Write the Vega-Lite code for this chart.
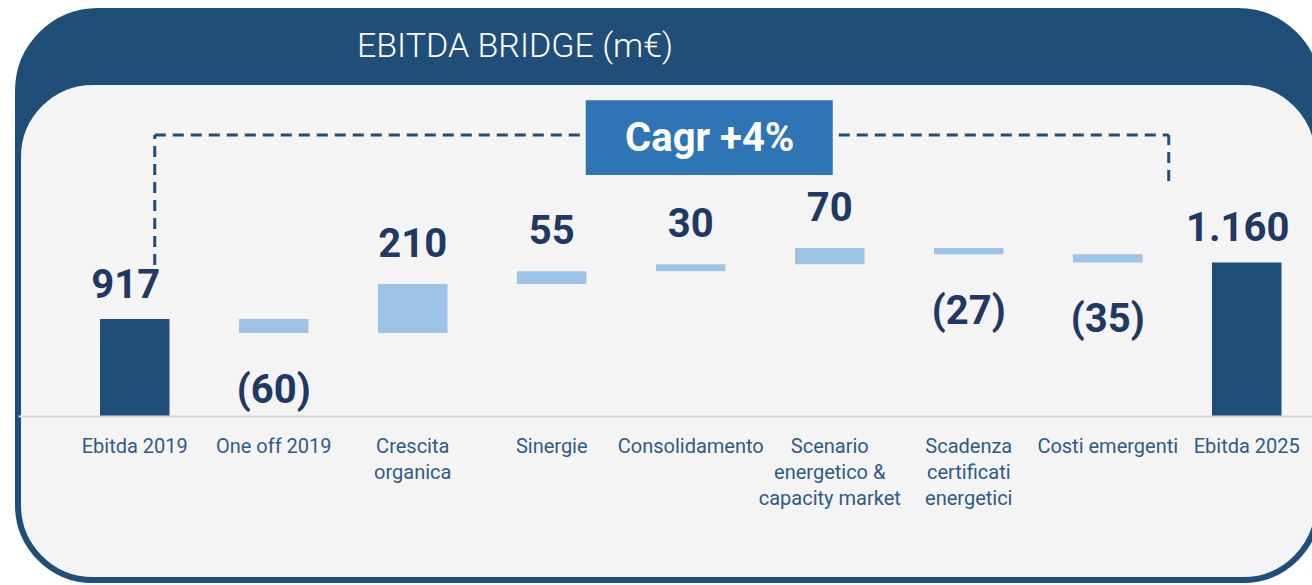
{
  "$schema": "https://vega.github.io/schema/vega-lite/v6.json",
  "background": "#FFFFFF",
  "padding": {"left": 15, "top": 11, "right": 0, "bottom": 0},
  "width": 1300,
  "height": 569,
  "view": {"fill": "#1F4E79", "stroke": "#1F4E79", "strokeWidth": 6, "cornerRadius": 80},
  "config": {"font": "Roboto"},
  "datasets": {
    "bridge": [
      {"cat": "Ebitda 2019", "kind": "total", "start": 0, "end": 917, "text": "917"},
      {"cat": "One off 2019", "kind": "down", "start": 917, "end": 857, "text": "(60)"},
      {"cat": "Crescita organica", "kind": "up", "start": 857, "end": 1067, "text": "210"},
      {"cat": "Sinergie", "kind": "up", "start": 1067, "end": 1122, "text": "55"},
      {"cat": "Consolidamento", "kind": "up", "start": 1122, "end": 1152, "text": "30"},
      {"cat": "Scenario energetico & capacity market", "kind": "up", "start": 1152, "end": 1222, "text": "70"},
      {"cat": "Scadenza certificati energetici", "kind": "down", "start": 1222, "end": 1195, "text": "(27)"},
      {"cat": "Costi emergenti", "kind": "down", "start": 1195, "end": 1160, "text": "(35)"},
      {"cat": "Ebitda 2025", "kind": "total", "start": 0, "end": 1160, "text": "1.160"}
    ],
    "chart": [{"title": "EBITDA BRIDGE (m€)", "from": "Ebitda 2019", "to": "Ebitda 2025", "label": "Cagr +4%"}]
  },
  "layer": [
    {
      "data": {"name": "chart"},
      "mark": {"type": "rect", "fill": "#F4F4F4", "stroke": "#1F4E79", "strokeWidth": 6, "cornerRadius": 75},
      "encoding": {
        "y": {"datum": 1936, "type": "quantitative", "scale": {"domain": [-205.1, 2241.2], "zero": false, "nice": false}, "axis": null},
        "y2": {"datum": -205.1}
      }
    },
    {
      "data": {"name": "chart"},
      "mark": {"type": "text", "color": "#FFFFFF", "fontSize": 34, "fontWeight": 300, "font": "Roboto", "align": "center", "baseline": "middle", "dx": -153},
      "encoding": {
        "y": {"datum": 2086, "type": "quantitative"},
        "text": {"field": "title", "type": "nominal"}
      }
    },
    {
      "data": {"name": "bridge"},
      "transform": [{"filter": "datum.kind == 'total'"}],
      "mark": {"type": "bar", "color": "#1F4E79"},
      "encoding": {
        "x": {
          "field": "cat", "type": "nominal", "sort": null,
          "scale": {
            "domain": ["Ebitda 2019", "One off 2019", "Crescita organica", "Sinergie", "Consolidamento", "Scenario energetico & capacity market", "Scadenza certificati energetici", "Costi emergenti", "Ebitda 2025"],
            "paddingInner": 0.5, "paddingOuter": 0.4263, "align": 0.692
          },
          "axis": {
            "title": null, "orient": "bottom", "offset": -164, "zindex": 1,
            "domainColor": "#D9D9D9", "domainWidth": 2,
            "ticks": false, "tickSize": 0, "labelAngle": 0,
            "labelFont": "Roboto", "labelFontSize": 20, "labelColor": "#2D5B8A",
            "labelBaseline": "top", "labelPadding": 20, "labelLineHeight": 26, "labelLimit": 0,
            "labelExpr": "datum.label == 'Crescita organica' ? ['Crescita', 'organica'] : datum.label == 'Scenario energetico & capacity market' ? ['Scenario', 'energetico &', 'capacity market'] : datum.label == 'Scadenza certificati energetici' ? ['Scadenza', 'certificati', 'energetici'] : datum.label"
          }
        },
        "y": {"field": "end", "type": "quantitative"},
        "y2": {"datum": 500}
      }
    },
    {
      "data": {"name": "bridge"},
      "transform": [{"filter": "datum.kind != 'total'"}],
      "mark": {"type": "bar", "color": "#9DC3E6"},
      "encoding": {
        "x": {"field": "cat", "type": "nominal", "sort": null},
        "y": {"field": "start", "type": "quantitative"},
        "y2": {"field": "end"}
      }
    },
    {
      "data": {"name": "bridge"},
      "transform": [{"filter": "datum.kind == 'total'"}],
      "mark": {"type": "text", "color": "#1F3864", "fontSize": 40, "fontWeight": "bold", "font": "Roboto", "align": "center", "baseline": "alphabetic", "dy": -21, "dx": -9},
      "encoding": {
        "x": {"field": "cat", "type": "nominal", "sort": null},
        "y": {"field": "end", "type": "quantitative"},
        "text": {"field": "text", "type": "nominal"}
      }
    },
    {
      "data": {"name": "bridge"},
      "transform": [{"filter": "datum.kind == 'up'"}],
      "mark": {"type": "text", "color": "#1F3864", "fontSize": 40, "fontWeight": "bold", "font": "Roboto", "align": "center", "baseline": "alphabetic", "dy": -27},
      "encoding": {
        "x": {"field": "cat", "type": "nominal", "sort": null},
        "y": {"field": "end", "type": "quantitative"},
        "text": {"field": "text", "type": "nominal"}
      }
    },
    {
      "data": {"name": "bridge"},
      "transform": [{"filter": "datum.kind == 'down'"}],
      "mark": {"type": "text", "color": "#1F3864", "fontSize": 40, "fontWeight": "bold", "font": "Roboto", "align": "center", "baseline": "alphabetic", "dy": 70},
      "encoding": {
        "x": {"field": "cat", "type": "nominal", "sort": null},
        "y": {"field": "end", "type": "quantitative"},
        "text": {"field": "text", "type": "nominal"}
      }
    },
    {
      "data": {"name": "chart"},
      "mark": {"type": "rule", "color": "#1F4E79", "strokeWidth": 3, "strokeDash": [11, 7], "xOffset": 20},
      "encoding": {
        "x": {"field": "from", "type": "nominal", "bandPosition": 0.5},
        "y": {"datum": 1149},
        "y2": {"datum": 1708}
      }
    },
    {
      "data": {"name": "chart"},
      "mark": {"type": "rule", "color": "#1F4E79", "strokeWidth": 3, "strokeDash": [11, 7], "xOffset": -78},
      "encoding": {
        "x": {"field": "to", "type": "nominal", "bandPosition": 0.5},
        "y": {"datum": 1510},
        "y2": {"datum": 1708}
      }
    },
    {
      "data": {"name": "chart"},
      "mark": {"type": "rule", "color": "#1F4E79", "strokeWidth": 3, "strokeDash": [11, 7], "xOffset": 20, "x2Offset": -78},
      "encoding": {
        "x": {"field": "from", "type": "nominal", "bandPosition": 0.5},
        "x2": {"field": "to"},
        "y": {"datum": 1708}
      }
    },
    {
      "data": {"name": "chart"},
      "mark": {"type": "rect", "color": "#2E75B6", "xOffset": -105, "x2Offset": 3},
      "encoding": {
        "x": {"datum": "Consolidamento", "bandPosition": 0.5},
        "x2": {"datum": "Scenario energetico & capacity market", "bandPosition": 0.5},
        "y": {"datum": 1858},
        "y2": {"datum": 1536}
      }
    },
    {
      "data": {"name": "chart"},
      "mark": {"type": "text", "color": "#FFFFFF", "fontSize": 40, "fontWeight": "bold", "font": "Roboto", "align": "center", "baseline": "middle", "dx": 19},
      "encoding": {
        "x": {"datum": "Consolidamento", "bandPosition": 0.5},
        "y": {"datum": 1691},
        "text": {"field": "label", "type": "nominal"}
      }
    }
  ]
}
